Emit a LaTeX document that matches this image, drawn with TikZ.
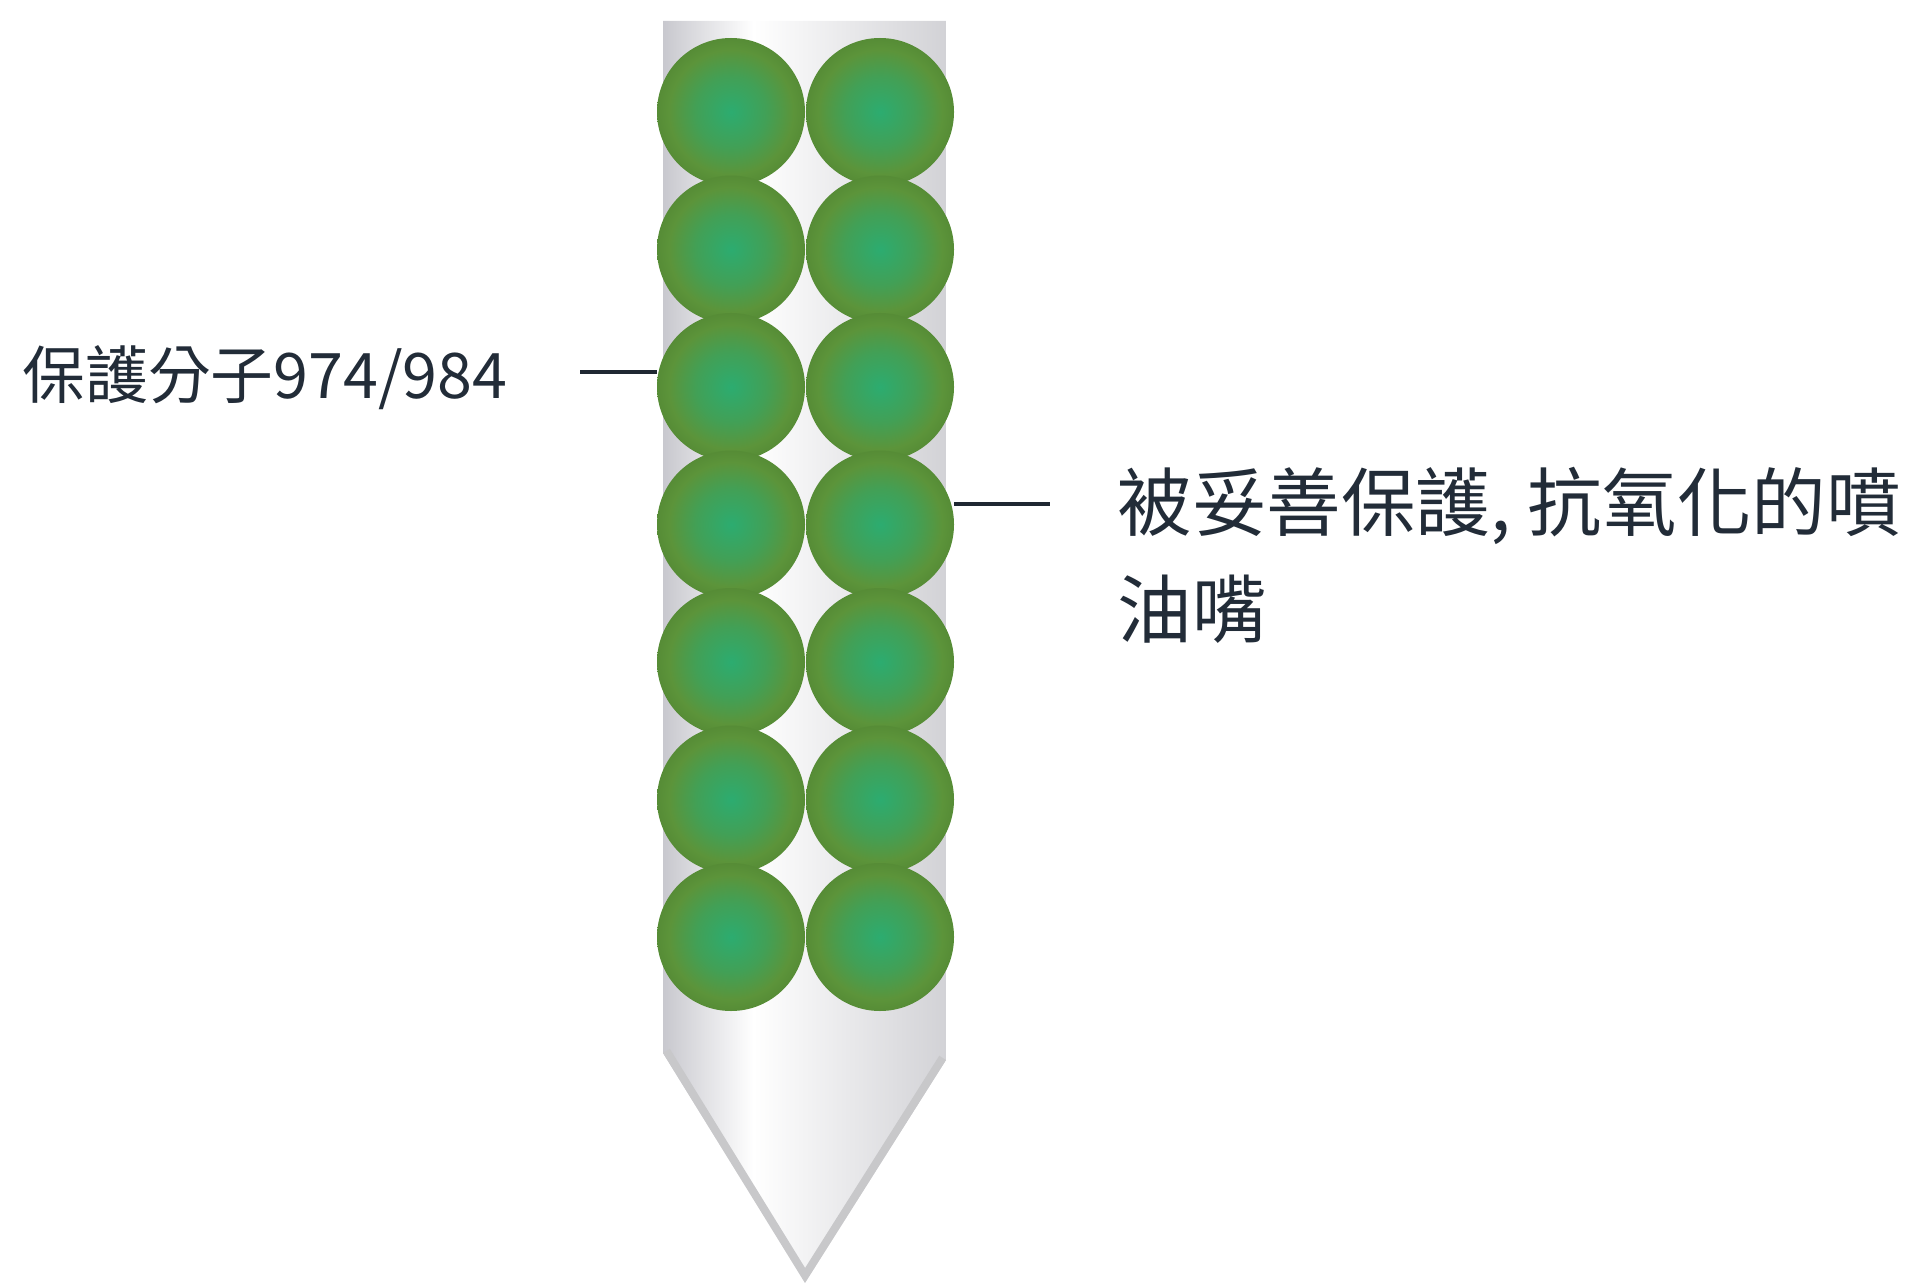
\documentclass[tikz,border=0pt]{standalone}
\usepackage{fontspec}
\newfontfamily\cjk{Noto Sans CJK TC}
\definecolor{labeltext}{RGB}{34,44,56}
\definecolor{beadcore}{RGB}{44,172,112}
\definecolor{beadmid}{RGB}{66,160,86}
\definecolor{beadrim}{RGB}{92,148,58}
\definecolor{beadedge}{RGB}{86,140,54}
\definecolor{tubeleft}{RGB}{200,200,206}
\definecolor{tuberight}{RGB}{210,210,214}
\definecolor{tipedge}{RGB}{200,200,202}
\pgfdeclareradialshading{beadshade}{\pgfpoint{0bp}{0bp}}{color(0bp)=(beadcore); color(12bp)=(beadmid); color(21bp)=(beadrim); color(25bp)=(beadedge); color(50bp)=(beadedge)}
\pgfdeclarehorizontalshading{tubeshade}{100bp}{color(0bp)=(tubeleft); color(25bp)=(tubeleft); color(41bp)=(white); color(75bp)=(tuberight); color(100bp)=(tuberight)}

\begin{document}
\begin{tikzpicture}[x=0.5pt,y=-0.5pt,
            bead/.style={circle,minimum size=74pt,inner sep=0pt,shading=beadshade},
            leader/.style={draw=labeltext!90!black,line width=1.6pt},
            note/.style={text=labeltext,inner sep=0pt,align=left}]
            \useasboundingbox (0,0) rectangle (1915,1283);
            % nozzle body with pointed end
            \begin{scope}
                \path[clip] (663,21) -- (946,21) -- (946,1060) -- (805,1283) -- (663,1053) -- cycle;
                \shade[shading=tubeshade] (663,21) rectangle (946,1283);
                \draw[tipedge,line width=8pt] (663,1053) -- (805,1283) -- (946,1060);
            \end{scope}
            % two columns of molecules
            \foreach \r in {1,...,7}
                \foreach \c in {1,2}
                    \node[bead] (b\r\c) at ({731+149*(\c-1)},{112+137.5*(\r-1)}) {};
            \node[note,font=\cjk\fontsize{31.4}{38}\selectfont,anchor=base west] (mol) at (22,398) {保護分子974/984};
            \node[note,font=\cjk\fontsize{37.3}{53.5}\selectfont,anchor=north west] (nozzle) at (1117,467) {被妥善保護, 抗氧化的噴\\油嘴};
            \coordinate (molend) at (580,372);
            \coordinate (nozzleend) at (1050,504);
            \draw[leader] (molend) -- (molend -| b31.west);
            \draw[leader] (nozzleend -| b42.east) -- (nozzleend);
        \end{tikzpicture}
\end{document}
